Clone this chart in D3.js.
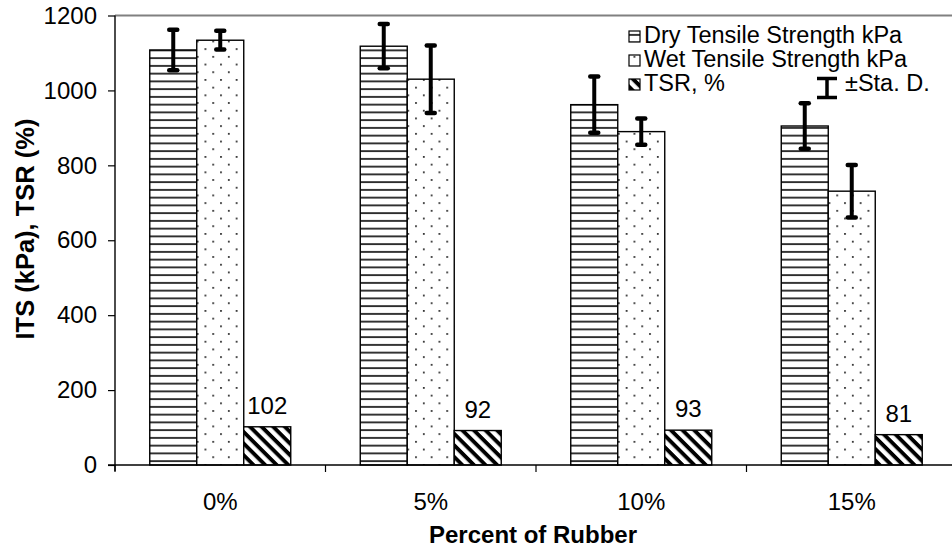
<!DOCTYPE html>
<html><head><meta charset="utf-8">
<script src="https://cdn.jsdelivr.net/npm/d3@7"></script>
<style>
body{margin:0;background:#fff}
svg{display:block}
text{font-family:"Liberation Sans",Arial,sans-serif;fill:#000}
</style>
</head><body>
<svg id="c" width="952" height="552"></svg>
<script>
const categories = ["0%", "5%", "10%", "15%"];
const seriesNames = ["Dry Tensile Strength kPa", "Wet Tensile Strength kPa", "TSR, %"];
const dryValues = [1108, 1118, 962, 905];
const dryErrors = [54, 59, 75, 61];
const wetValues = [1134, 1030, 890, 731];
const wetErrors = [25, 90, 35, 70];
const tsrValues = [102, 92, 93, 81];
const yTicks = [0, 200, 400, 600, 800, 1000, 1200];
const errorLegendLabel = "±Sta. D.";
const xTitle = "Percent of Rubber";
const yTitle = "ITS (kPa), TSR (%)";

const svg = d3.select("#c");
const L = 115, R = 957, T = 15.5, B = 465;

const x0 = d3.scaleBand().domain(categories).range([L, R]).paddingInner(0.3302).paddingOuter(0.1651);
const x1 = d3.scaleBand().domain([0, 1, 2]).range([0, x0.bandwidth()]);
const y = d3.scaleLinear().domain([0, 1200]).range([B, T]);

// patterns
const defs = svg.append("defs");
const pH = defs.append("pattern").attr("id", "pDry").attr("patternUnits", "userSpaceOnUse")
  .attr("width", 10).attr("height", 7.75);
pH.append("rect").attr("width", 10).attr("height", 7.75).attr("fill", "#fff");
pH.append("rect").attr("y", 3).attr("width", 10).attr("height", 1.8).attr("fill", "#222");

const pD = defs.append("pattern").attr("id", "pWet").attr("patternUnits", "userSpaceOnUse")
  .attr("x", 1.7).attr("y", 2).attr("width", 15.6).attr("height", 15.4);
pD.append("rect").attr("width", 15.6).attr("height", 15.4).attr("fill", "#fff");
pD.append("rect").attr("x", 0).attr("y", 0).attr("width", 1.8).attr("height", 1.8).attr("fill", "#333");
pD.append("rect").attr("x", 7.8).attr("y", 7.7).attr("width", 1.8).attr("height", 1.8).attr("fill", "#333");

const pT = defs.append("pattern").attr("id", "pTsr").attr("patternUnits", "userSpaceOnUse")
  .attr("width", 20).attr("height", 8.2).attr("patternTransform", "rotate(45)");
pT.append("rect").attr("width", 20).attr("height", 8.2).attr("fill", "#fff");
pT.append("rect").attr("y", 0).attr("width", 20).attr("height", 3.9).attr("fill", "#000");

const fills = ["url(#pDry)", "url(#pWet)", "url(#pTsr)"];

// plot border (top)
svg.append("line").attr("x1", L).attr("x2", R).attr("y1", T).attr("y2", T)
  .attr("stroke", "#808080").attr("stroke-width", 1.8);

const seriesValues = [dryValues, wetValues, tsrValues];
const seriesErrors = [dryErrors, wetErrors, null];

// bars
seriesValues.forEach((vals, s) => {
  svg.append("g").selectAll("rect").data(vals).join("rect")
    .attr("x", (d, i) => x0(categories[i]) + x1(s))
    .attr("y", d => y(d))
    .attr("width", x1.bandwidth())
    .attr("height", d => B - y(d))
    .attr("fill", fills[s])
    .attr("stroke", "#000").attr("stroke-width", 1.4);
});

// error bars
seriesValues.forEach((vals, s) => {
  const errs = seriesErrors[s];
  if (!errs) return;
  const g = svg.append("g");
  vals.forEach((v, i) => {
    const cx = x0(categories[i]) + x1(s) + x1.bandwidth() / 2;
    const yt = y(v + errs[i]), yb = y(v - errs[i]);
    g.append("line").attr("x1", cx).attr("x2", cx).attr("y1", yt).attr("y2", yb)
      .attr("stroke", "#000").attr("stroke-width", 4);
    [yt, yb].forEach(yy => {
      g.append("line").attr("x1", cx - 4).attr("x2", cx + 4).attr("y1", yy).attr("y2", yy)
        .attr("stroke", "#000").attr("stroke-width", 4.5).attr("stroke-linecap", "round");
    });
  });
});

// TSR labels
svg.append("g").selectAll("text").data(tsrValues).join("text")
  .attr("x", (d, i) => x0(categories[i]) + x1(2) + x1.bandwidth() / 2)
  .attr("y", d => y(d) - 13)
  .attr("text-anchor", "middle").attr("font-size", 24)
  .text(d => d);

// y axis
const yAxis = svg.append("g").attr("transform", `translate(${L},0)`)
  .call(d3.axisLeft(y).tickValues(yTicks).tickSize(7).tickPadding(11).tickFormat(d3.format("d")));
yAxis.select(".domain").attr("stroke", "#000").attr("stroke-width", 1.4).attr("d", `M0,${T}V${B + 6}`);
yAxis.selectAll(".tick line").attr("stroke", "#000").attr("stroke-width", 1.2);
yAxis.selectAll("text").attr("font-size", 24).attr("font-family", '"Liberation Sans",Arial,sans-serif').attr("fill", "#000");

// x axis
const xg = svg.append("g");
xg.append("line").attr("x1", L - 7).attr("x2", 952).attr("y1", B).attr("y2", B)
  .attr("stroke", "#000").attr("stroke-width", 1.4);
const bounds = categories.map(c => x0(c) - x0.step() * 0.1651).concat([R]);
xg.selectAll("line.tk").data(bounds).join("line").attr("class", "tk")
  .attr("x1", d => d).attr("x2", d => d).attr("y1", B).attr("y2", B + 7)
  .attr("stroke", "#000").attr("stroke-width", 1.2);
xg.selectAll("text").data(categories).join("text")
  .attr("x", d => x0(d) + x0.bandwidth() / 2).attr("y", 510)
  .attr("text-anchor", "middle").attr("font-size", 24).text(d => d);

// titles
svg.append("text").attr("x", 533).attr("y", 543).attr("text-anchor", "middle")
  .attr("font-size", 24).attr("font-weight", "bold").text(xTitle);
svg.append("text").attr("transform", "translate(34,229) rotate(-90)").attr("text-anchor", "middle")
  .attr("font-size", 25.5).attr("font-weight", "bold").text(yTitle);

// legend
const lg = svg.append("g");
const rowsY = [42.5, 66.5, 90.5];
seriesNames.forEach((n, s) => {
  lg.append("rect").attr("x", 629).attr("y", rowsY[s] - 11.5).attr("width", 11).attr("height", 11)
    .attr("fill", fills[s]).attr("stroke", "#000").attr("stroke-width", 1.2);
  lg.append("text").attr("x", 644).attr("y", rowsY[s]).attr("font-size", 23.5).text(n);
});
const ex = 827;
lg.append("line").attr("x1", ex).attr("x2", ex).attr("y1", 77).attr("y2", 99).attr("stroke", "#000").attr("stroke-width", 3.5);
[78.5, 97.5].forEach(yy => lg.append("line").attr("x1", ex - 10).attr("x2", ex + 10).attr("y1", yy).attr("y2", yy)
  .attr("stroke", "#000").attr("stroke-width", 3.5));
lg.append("text").attr("x", 845).attr("y", 90.5).attr("font-size", 23.5).text(errorLegendLabel);
</script>
</body></html>
